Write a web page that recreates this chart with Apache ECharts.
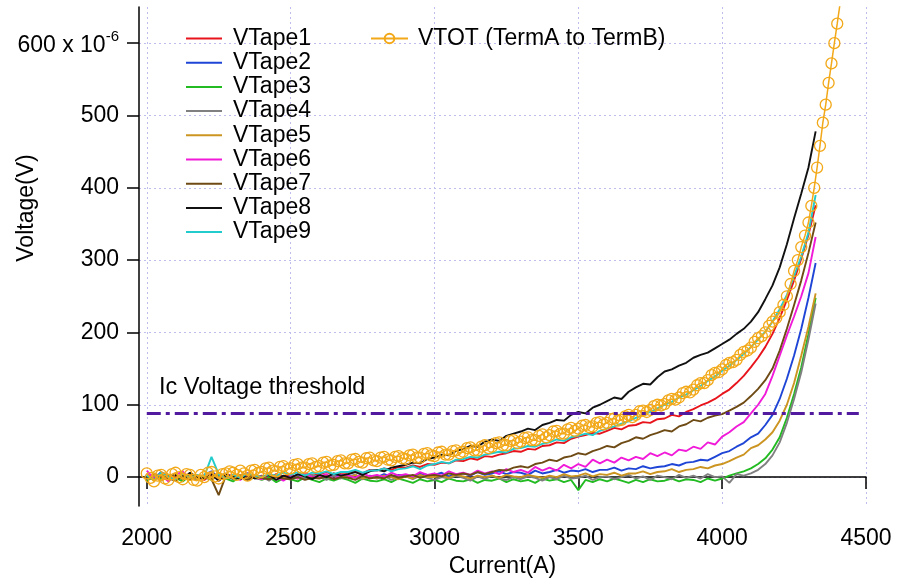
<!DOCTYPE html>
<html>
<head>
<meta charset="utf-8">
<script src="https://cdn.jsdelivr.net/npm/echarts@6/dist/echarts.min.js"></script>
<style>
html,body{margin:0;padding:0;background:#fff;}
#chart{width:897px;height:578px;}
</style>
</head>
<body>
<div id="chart"></div>
<script>
// Current (A) sample points shared by the tape traces
const currentTape = [2000,2025,2050,2075,2100,2125,2150,2175,2200,2225,2250,2275,2300,2325,2350,2375,2400,2425,2450,2475,2500,2525,2550,2575,2600,2625,2650,2675,2700,2725,2750,2775,2800,2825,2850,2875,2900,2925,2950,2975,3000,3025,3050,3075,3100,3125,3150,3175,3200,3225,3250,3275,3300,3325,3350,3375,3400,3425,3450,3475,3500,3525,3550,3575,3600,3625,3650,3675,3700,3725,3750,3775,3800,3825,3850,3875,3900,3925,3950,3975,4000,4025,4050,4075,4100,4125,4150,4175,4200,4225,4250,4275,4300,4325];
// Current (A) sample points of the total voltage trace
const currentTot = [
2000,2013,2025,2038,2050,2063,2075,2088,
2100,2113,2125,2138,2150,2163,2175,2188,
2200,2213,2225,2238,2250,2263,2275,2288,
2300,2313,2325,2338,2350,2363,2375,2388,
2400,2413,2425,2438,2450,2463,2475,2488,
2500,2513,2525,2538,2550,2563,2575,2588,
2600,2613,2625,2638,2650,2663,2675,2688,
2700,2713,2725,2738,2750,2763,2775,2788,
2800,2813,2825,2838,2850,2863,2875,2888,
2900,2913,2925,2938,2950,2963,2975,2988,
3000,3013,3025,3038,3050,3063,3075,3088,
3100,3113,3125,3138,3150,3163,3175,3188,
3200,3213,3225,3238,3250,3263,3275,3288,
3300,3313,3325,3338,3350,3363,3375,3388,
3400,3413,3425,3438,3450,3463,3475,3488,
3500,3513,3525,3538,3550,3563,3575,3588,
3600,3613,3625,3638,3650,3663,3675,3688,
3700,3713,3725,3738,3750,3763,3775,3788,
3800,3813,3825,3838,3850,3863,3875,3888,
3900,3913,3925,3938,3950,3963,3975,3988,
4000,4013,4025,4038,4050,4063,4075,4088,
4100,4113,4125,4138,4150,4163,4175,4188,
4200,4213,4225,4238,4250,4263,4275,4288,
4300,4310,4320,4330,4340,4350,4360,4370,4380,4390,4400,4410];

// Voltages in units of 1e-6 V
const vTape1 = [-3,4,1,-5, 2,-2,5,0, -4,3,-1,4, 1,-3,3,-1, 2,-2,4,1, 3,0,5,2, 4,7,3,6, 6,9,5,10, 9,12,10,14, 13,16,14,18, 17,20,19,23, 22,26,24,29, 28,31,33,36, 35,39,38,43, 44,48,47,53, 56,58,61,60, 64,68,66,71, 72,76,75,80, 81,86,84,90, 94,99,103,108, 115,121,130,140, 152,165,180,198, 220,245,272,302, 335,376];
const vTape2 = [4,-3,7,1, -2,5,0,-4, 3,8,-1,2, -3,2,5,-1, 1,-4,3,0, -2,3,1,-3, 2,-1,4,0, 1,3,-2,2, 0,4,1,3, 2,-1,5,3, 3,6,1,4, 5,2,7,3, 5,8,4,7, 6,3,9,5, 7,10,6,9, 8,11,7,10, 10,13,9,12, 11,15,12,14, 15,18,16,20, 21,24,23,28, 33,36,42,47, 55,60,72,86, 108,136,168,205, 248,296];
const vTape3 = [-5,1,-3,3, -1,-6,2,-3, 0,-4,3,-2, -6,1,-3,-1, -4,0,-7,-2, -3,-6,0,-4, -7,-2,-5,-1, -4,-8,-2,-5, -6,-3,-7,-2, -5,-8,-3,-6, -4,-7,-2,-5, -6,-3,-8,-4, -5,-2,-7,-3, -6,-4,-8,-2, -5,-3,-7,-4, -18,-4,-7,-3, -6,-2,-5,-8, -4,-7,-3,-6, -5,-2,-6,-3, -4,-7,-2,-5, -2,2,5,8, 12,18,26,38, 55,82,115,152, 198,248];
const vTape4 = [-3,2,-5,1, 4,-2,0,-4, 2,-3,1,5, -2,3,-4,0, 1,-5,2,-1, -3,1,-2,3, 0,-4,2,-2, 3,-1,-3,1, -2,2,-4,0, 1,-3,2,-1, -4,0,-2,2, -1,-5,1,-3, 2,-2,-4,0, -3,1,-1,-5, 0,-3,2,-2, -1,2,-4,0, 1,-3,0,3, -2,1,-4,2, 0,-3,3,-1, 2,-2,4,0, 1,-8,4,2, 5,10,18,30, 48,75,108,145, 190,240];
const vTape5 = [-2,5,1,-4, 3,-1,4,-3, 2,-2,6,0, -1,3,-3,2, 0,-3,2,-1, 1,-2,3,0, -1,2,-3,1, 0,3,-2,1, -1,2,0,-3, 1,-2,3,0, 0,2,-1,3, 1,-2,2,0, 2,-1,3,1, 0,3,1,-1, 2,0,4,1, 2,5,1,4, 3,6,2,5, 5,8,4,7, 8,11,7,10, 11,14,12,16, 18,22,27,31, 40,44,52,62, 78,100,130,168, 208,254];
const vTape6 = [9,-2,4,-6, 3,8,-4,2, -1,5,-5,3, 2,-4,6,-1, -3,4,0,-5, 2,-2,5,0, 1,4,-3,3, 2,-1,5,1, 3,0,6,2, 4,1,7,3, 5,2,8,4, 6,3,9,5, 8,4,11,7, 10,6,14,9, 13,9,17,12, 18,14,24,19, 24,20,27,23, 28,25,33,29, 34,30,38,36, 42,39,48,45, 56,62,70,76, 88,100,115,140, 168,196,222,250, 282,332];
const vTape7 = [1,-4,3,-2, -5,2,-3,1, 0,-3,-25,2, -2,1,-4,0, -1,-3,0,-2, -3,0,-4,-1, -2,1,-3,0, -1,-4,2,-2, 0,-2,3,-1, 1,3,-1,2, 3,1,5,3, 5,3,7,4, 7,10,9,13, 15,13,18,20, 24,22,27,29, 33,31,36,39, 43,41,47,50, 55,53,58,61, 65,63,70,73, 79,77,82,85, 87,92,97,103, 112,122,134,150, 175,205,238,272, 310,352];
const vTape8 = [2,-4,5,-1, 3,-3,6,0, -2,4,-5,3, 1,-3,4,-2, 0,3,-4,2, -1,4,1,-3, 3,0,5,2, 4,7,3,8, 10,8,13,15, 17,20,19,25, 27,31,30,36, 39,43,42,49, 52,50,57,60, 63,67,65,72, 75,79,78,86, 90,88,96,100, 105,110,108,118, 124,129,128,138, 146,149,154,158, 165,169,172,178, 184,190,198,205, 215,228,246,265, 290,322,358,392, 428,478];
const vTape9 = [2,-4,6,0, -3,5,-1,3, 1,28,4,-2, 3,-1,5,2, 0,4,2,6, 3,7,2,6, 5,8,4,7, 7,10,6,9, 9,12,8,11, 12,15,11,16, 18,21,19,24, 25,28,27,31, 33,35,34,39, 40,43,42,46, 48,52,50,55, 57,60,58,64, 67,70,74,77, 82,86,90,95, 100,104,110,114, 120,126,133,139, 147,154,162,170, 180,190,201,215, 232,252,278,305, 338,390];
const vTot = [
5,-1,-6,2,3,-2,-4,4,
6,0,-3,4,3,-4,-5,3,
0,6,7,1,-2,4,5,8,
6,3,9,5,2,9,10,6,
7,12,13,9,8,14,15,11,
12,17,18,13,13,18,19,14,
15,20,21,16,17,22,23,19,
19,24,25,21,20,26,27,23,
22,27,28,24,23,28,29,26,
25,30,31,27,27,32,33,30,
29,34,35,31,31,36,37,33,
35,40,41,37,37,42,44,40,
42,47,48,44,44,50,51,47,
49,54,55,51,51,57,59,55,
58,63,64,60,60,66,68,64,
67,71,72,69,70,75,76,73,
75,80,81,78,79,84,86,83,
86,91,92,90,93,98,100,99,
101,106,108,107,110,116,118,117,
121,127,130,130,134,141,144,145,
149,155,158,159,162,169,173,175,
179,187,192,195,200,209,215,220,
228,238,250,267,285,300,318,334,
352,375,400,428,458,490,515,545,572,600,627,655];

const thresholdCurrent = [2000, 4475];
const thresholdVoltage = 88;

const xTicks = [2000, 2500, 3000, 3500, 4000, 4500];
const yTicks = [0, 100, 200, 300, 400, 500, 600];

const tapeNames = ['VTape1','VTape2','VTape3','VTape4','VTape5','VTape6','VTape7','VTape8','VTape9'];
const tapeValues = [vTape1, vTape2, vTape3, vTape4, vTape5, vTape6, vTape7, vTape8, vTape9];
const tapeColors = ['#e8141c','#1f45d6','#22bb22','#808080','#cc9420','#f01ad8','#6e4a14','#111111','#22cccc'];
const totName = 'VTOT (TermA to TermB)';
const totColor = '#f2a818';

const FONT = 'Helvetica, "Liberation Sans", Arial, sans-serif';
const FS = 23;

const series = tapeNames.map((name, k) => ({
  name: name,
  type: 'line',
  symbol: 'none',
  data: currentTape.map((c, i) => [c, tapeValues[k][i]]),
  lineStyle: { color: tapeColors[k], width: 1.9 },
  itemStyle: { color: tapeColors[k] },
  z: 2
}));
series.push({
  name: totName,
  type: 'line',
  symbol: 'circle',
  symbolSize: 11,
  showAllSymbol: true,
  data: currentTot.map((c, i) => [c, vTot[i]]),
  lineStyle: { color: totColor, width: 1.5 },
  itemStyle: { color: 'rgba(255,255,255,0)', borderColor: totColor, borderWidth: 1.3 },
  z: 3
});
series.push({
  name: 'threshold',
  type: 'line',
  symbol: 'none',
  data: thresholdCurrent.map(c => [c, thresholdVoltage]),
  lineStyle: { color: '#521a9e', width: 3, type: [14, 5, 4, 5] },
  z: 4
});

const chart = echarts.init(document.getElementById('chart'), null, { renderer: 'canvas' });
chart.setOption({
  animation: false,
  backgroundColor: '#fff',
  grid: { left: 139, right: 31, top: 7, bottom: 72, containLabel: false, outerBoundsMode: 'none' },
  xAxis: {
    type: 'value', min: 1973, max: 4500,
    name: 'Current(A)', nameLocation: 'middle', nameGap: 43,
    nameTextStyle: { color: '#000', fontSize: FS, fontFamily: FONT },
    axisLine: { lineStyle: { color: '#000', width: 1.5 } },
    axisTick: { length: 12, lineStyle: { color: '#000', width: 1.5 }, customValues: xTicks },
    axisLabel: { color: '#000', fontSize: FS, fontFamily: FONT, margin: 21, customValues: xTicks, formatter: v => String(v) },
    splitLine: { show: true, lineStyle: { color: '#bdbdee', width: 1, type: [2, 3] } }
  },
  yAxis: {
    type: 'value', min: -40, max: 650,
    axisLine: { show: true, lineStyle: { color: '#000', width: 1.5 } },
    axisTick: { show: true, length: 12, lineStyle: { color: '#000', width: 1.5 }, customValues: yTicks },
    axisLabel: {
      color: '#000', fontSize: FS, fontFamily: FONT, margin: 20, customValues: yTicks,
      formatter: v => v === 600 ? '{a|600 x 10}{s|-6}' : String(v),
      rich: {
        a: { fontSize: FS, fontFamily: FONT, color: '#000', lineHeight: 28, verticalAlign: 'bottom' },
        s: { fontSize: 15, fontFamily: FONT, color: '#000', lineHeight: 28, verticalAlign: 'top' }
      }
    },
    splitLine: { show: true, lineStyle: { color: '#bdbdee', width: 1, type: [2, 3] } }
  },
  legend: [
    {
      data: tapeNames, orient: 'vertical', left: 181, top: 22,
      icon: 'rect', itemWidth: 36, itemHeight: 2, itemGap: 1.2,
      textStyle: { color: '#000', fontSize: FS, fontFamily: FONT, lineHeight: 22, padding: [0, 0, 0, 6] }
    },
    {
      data: [totName], orient: 'vertical', left: 365, top: 22,
      itemWidth: 37, itemHeight: 12,
      textStyle: { color: '#000', fontSize: FS, fontFamily: FONT, lineHeight: 22, padding: [0, 0, 0, 5] }
    }
  ],
  graphic: [
    {
      type: 'text', x: 27, y: 208, rotation: Math.PI / 2,
      style: { text: 'Voltage(V)', font: FS + 'px ' + FONT, fill: '#000', textAlign: 'center', textVerticalAlign: 'middle' }
    },
    {
      type: 'text', x: 159, y: 388,
      style: { text: 'Ic Voltage threshold', font: '23.5px ' + FONT, fill: '#000', textAlign: 'left', textVerticalAlign: 'middle' }
    }
  ],
  series: series
});
</script>
</body>
</html>
